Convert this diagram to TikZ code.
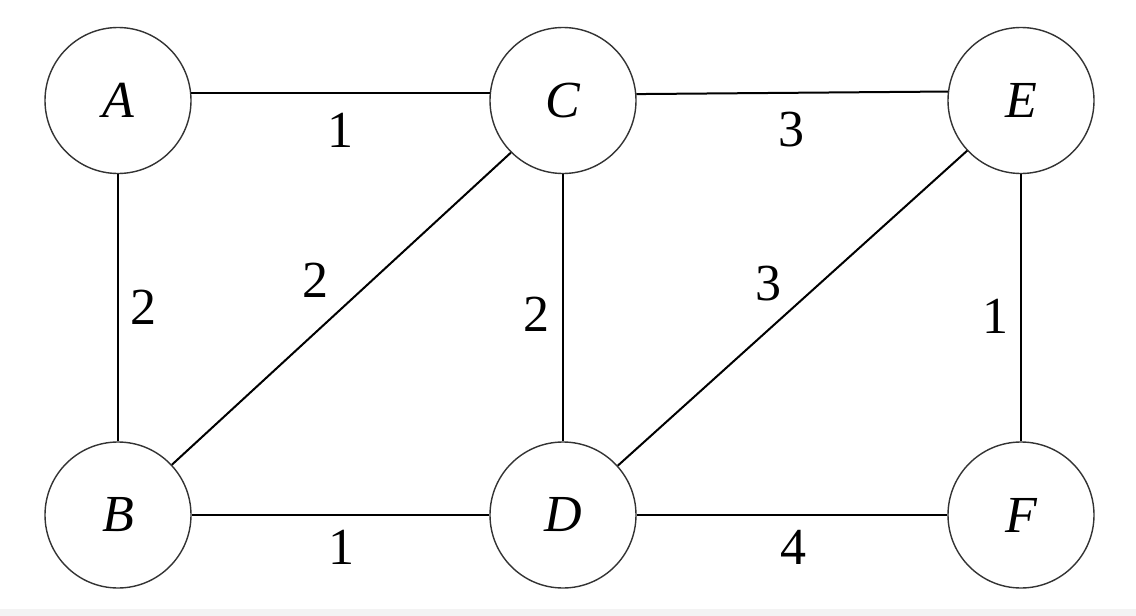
\documentclass[tikz,border=0pt]{standalone}
\usepackage{fontspec}
\setmainfont{Liberation Serif}
\definecolor{circ}{HTML}{333333}
\definecolor{band}{HTML}{F3F3F3}
\tikzset{
  vertex/.style={circle, draw=circ, line width=1.4pt, minimum size=146pt, inner sep=0pt,
    font=\fontsize{52}{60}\selectfont\itshape},
  edgeline/.style={line width=2pt, black},
  weight/.style={inner sep=0pt, font=\fontsize{52}{60}\selectfont}
}
\begin{document}
\begin{tikzpicture}[x=1pt,y=-1pt]
\useasboundingbox (0,0) rectangle (1136,616);
\fill[white] (0,0) rectangle (1136,616);
\fill[band] (0,609) rectangle (1136,616);
\node[vertex] (A) at (118,100.5) {A};
\node[vertex] (C) at (563,100.5) {C};
\node[vertex] (E) at (1021,100.5) {E};
\node[vertex] (B) at (118,515) {B};
\node[vertex] (D) at (563,515) {D};
\node[vertex] (F) at (1021,515) {F};
\draw[edgeline] (A.6) -- (C.174);
\draw[edgeline] (C.5) -- (E.173);
\draw[edgeline] (A.south) -- (B.north);
\draw[edgeline] (B.43.5) -- (C.225.8);
\draw[edgeline] (C.south) -- (D.north);
\draw[edgeline] (D.42) -- (E.223);
\draw[edgeline] (E.south) -- (F.north);
\draw[edgeline] (B.east) -- (D.west);
\draw[edgeline] (D.east) -- (F.west);
\node[weight] (wAC) at (340,130) {1};
\node[weight] (wCE) at (791,130) {3};
\node[weight] (wAB) at (143,307) {2};
\node[weight] (wBC) at (315,280) {2};
\node[weight] (wCD) at (536,314) {2};
\node[weight] (wDE) at (768,284) {3};
\node[weight] (wEF) at (995,316) {1};
\node[weight] (wBD) at (341,547) {1};
\node[weight] (wDF) at (793,547) {4};
\end{tikzpicture}
\end{document}
